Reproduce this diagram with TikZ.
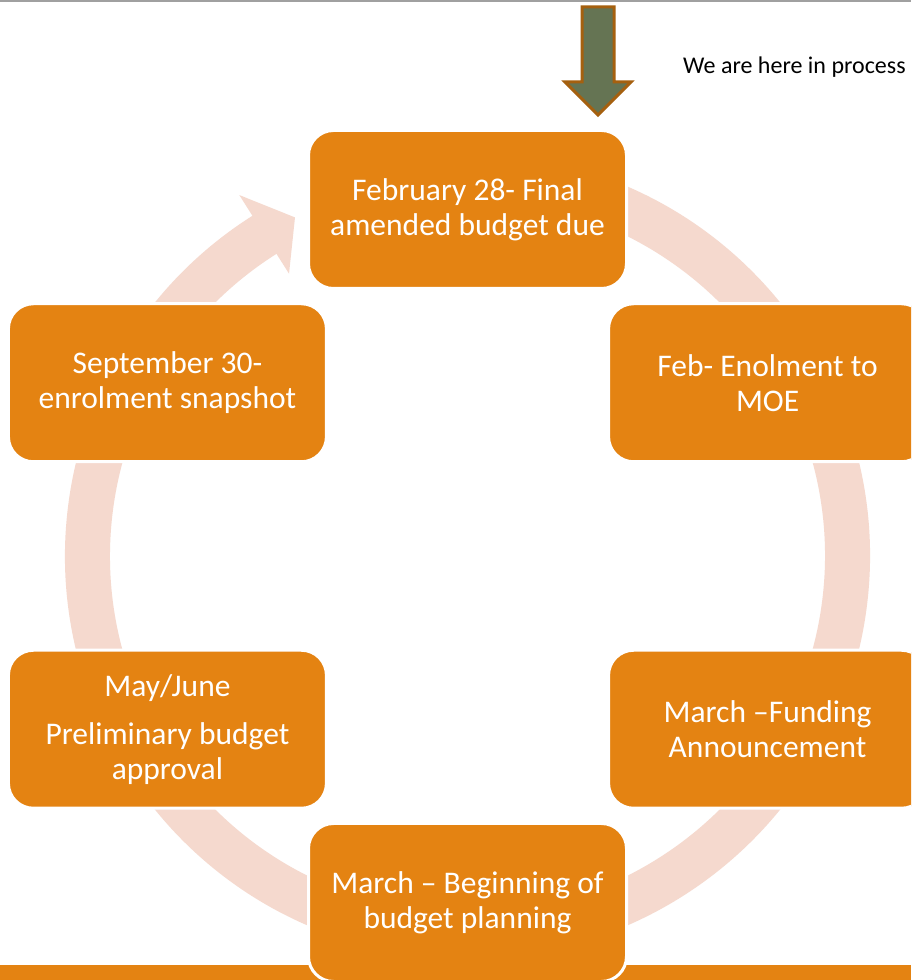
\documentclass[tikz,border=0pt]{standalone}
\usepackage{fontspec}
\setmainfont{Carlito}
\usetikzlibrary{calc}
\definecolor{boxorange}{HTML}{E48312}
\definecolor{ringpink}{HTML}{F5D9CE}
\definecolor{markgreen}{HTML}{657453}
\definecolor{markbrown}{HTML}{A5600F}
\definecolor{rulegray}{HTML}{A0A0A0}
\begin{document}
\begin{tikzpicture}[x=1pt,y=1pt,
  stagebox/.style={fill=boxorange, draw=white, line width=3pt,
    rounded corners=25pt, minimum width=318pt, minimum height=158pt,
    text=white, align=center, inner sep=0pt,
    font=\fontsize{31.5}{35}\selectfont},
  ring/.style={fill=ringpink},
  marker/.style={draw=markbrown, fill=markgreen, line width=3pt, line join=miter}]
\useasboundingbox (0,0) rectangle (911,980);
\clip (0,0) rectangle (911,980);
\fill[white] (0,0) rectangle (911,980);

% rule along the top edge and band along the bottom edge
\fill[rulegray] (0,977.5) rectangle (911,980);
\fill[boxorange] (0,0) rectangle (911,15);

% centre of the cycle
\coordinate (c) at (467.5,424);

% circular arrow running clockwise behind the stages
\fill[ring] ($(c)+(80:402.5)$) arc[start angle=80, end angle=-237.7, radius=402.5]
  -- ($(c)+(122.3:427)$) -- ($(c)+(117:380)$) -- ($(c)+(122.3:334)$)
  -- ($(c)+(122.3:357.5)$) arc[start angle=-237.7, end angle=80, radius=357.5] -- cycle;

% stages of the budget cycle
\node[stagebox] (feb28)   at ($(c)+(90:346.5)$)   {February 28- Final\\amended budget due};
\node[stagebox] (febmoe)  at ($(c)+(30:346.5)$)   {Feb- Enolment to\\MOE};
\node[stagebox] (marfund) at ($(c)+(-30:346.5)$)  {March –Funding\\Announcement};
\node[stagebox] (marplan) at ($(c)+(-90:346.5)$)  {March – Beginning of\\budget planning};
\node[stagebox] (mayjune) at ($(c)+(-150:346.5)$) {May/June\\[13pt]Preliminary budget\\approval};
\node[stagebox] (sep30)   at ($(c)+(150:346.5)$)  {September 30-\\enrolment snapshot};

% current-position marker
\draw[marker] (582,973) -- (614,973) -- (614,898) -- (631,898) -- (598,865)
  -- (565,898) -- (582,898) -- cycle;
\node[anchor=base west, inner sep=0pt, font=\fontsize{24}{28}\selectfont] (here) at (683,906) {We are here in process};
\end{tikzpicture}
\end{document}
